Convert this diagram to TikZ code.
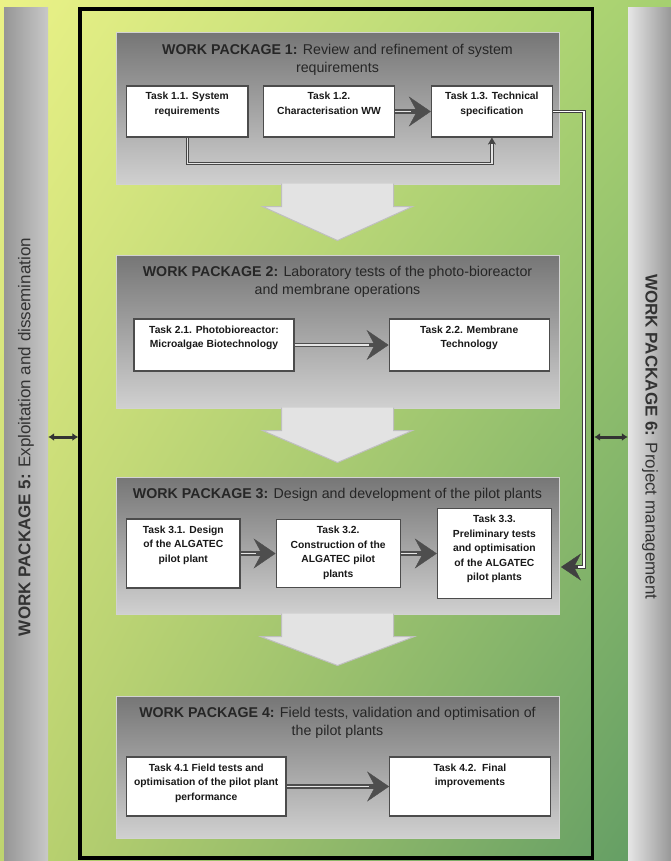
\documentclass[tikz,border=0pt]{standalone}
\usepackage{fontspec}
\setmainfont{Liberation Sans}
\usepackage{tikz}
\usetikzlibrary{arrows.meta,positioning,calc,shadings}

\definecolor{bgyellow}{RGB}{235,242,135}
\definecolor{bgolive}{RGB}{165,208,112}
\definecolor{bglime}{RGB}{190,212,112}
\definecolor{bggreen}{RGB}{95,155,100}
\definecolor{wptop}{RGB}{118,118,118}
\definecolor{wpbottom}{RGB}{208,208,208}
\definecolor{bardark}{RGB}{150,150,150}
\definecolor{barlight}{RGB}{230,230,230}
\definecolor{barmid}{RGB}{200,200,200}
\definecolor{arrowgray}{RGB}{78,78,78}

\begin{document}
\begin{tikzpicture}[x=1pt, y=-1pt,
  wp/.style={draw=gray!35, line width=1pt, top color=wptop, bottom color=wpbottom, minimum width=443pt, inner sep=0pt},
  wptitle/.style={font=\fontsize{14.2}{17.5}\selectfont, text=black!85, align=center, inner sep=0pt},
  task/.style={draw=black!70, line width=1.2pt, fill=white, align=center, inner xsep=2pt, inner ysep=6.5pt, font=\fontsize{10.3}{14.5}\selectfont\bfseries, text=black!90},
  sidebar/.style={minimum width=858pt, minimum height=44pt, font=\fontsize{17}{20}\selectfont, text=black!80, inner sep=0pt},
  outerframe/.style={draw=black, line width=3.4pt, minimum width=512.5pt, minimum height=849pt, inner sep=0pt},
  tarr/.style={draw=arrowgray, line width=4.6pt, -{Stealth[length=22pt, width=30pt, inset=8pt, line width=0.4pt]}, postaction={draw=gray!20, line width=1.6pt, -, shorten >=20pt}},
  loopc/.style={draw=gray!55!black, line width=3.2pt, -{Stealth[length=7pt, width=8pt, line width=0.4pt]}, postaction={draw=gray!20, line width=1.4pt, -, shorten >=6pt}},
  fback/.style={draw=gray!50!black, line width=3.4pt, -{Stealth[length=20pt, width=27pt, inset=7pt, line width=0.4pt]}, postaction={draw=white, line width=1.6pt, -, shorten >=17pt}},
  bigarr/.style={fill=gray!22, draw=gray!50, line width=1pt},
  sidearr/.style={draw=gray!40!black, line width=3pt, {Latex[length=6pt, width=8pt]}-{Latex[length=6pt, width=8pt]}}
]
\useasboundingbox (0,0) rectangle (671,861);
\shade[upper left=bgyellow, upper right=bgolive, lower left=bglime, lower right=bggreen] (0,0) rectangle (671,861);

% side work packages and frame
\node[sidebar, rotate=90, left color=bardark, middle color=barlight, right color=barmid] (wp5) at (26,437) {\textbf{WORK PACKAGE 5:} Exploitation and dissemination};
\node[sidebar, rotate=-90, left color=barlight, right color=bardark] (wp6) at (650,437) {\textbf{WORK PACKAGE 6:} Project management};
\node[outerframe] (core) at (336.25,433.5) {};

\draw[sidearr] (wp5.south) -- (wp5.south -| core.west);
\draw[sidearr] (wp6.south) -- (wp6.south -| core.east);

% work packages
\node[wp, minimum height=151pt] (wp1) at (337.5,108.5) {};
\node[wp, minimum height=153pt, below=70pt of wp1] (wp2) {};
\node[wp, minimum height=137pt, below=68pt of wp2] (wp3) {};
\node[wp, minimum height=142pt, below=81pt of wp3] (wp4) {};

\node[wptitle, below=12pt of wp1.north] (wp1t) {\textbf{WORK PACKAGE 1:} Review and refinement of system\\requirements};
\node[wptitle, below=12pt of wp2.north] (wp2t) {\textbf{WORK PACKAGE 2:} Laboratory tests of the photo-bioreactor\\and membrane operations};
\node[wptitle, below=12pt of wp3.north] (wp3t) {\textbf{WORK PACKAGE 3:} Design and development of the pilot plants};
\node[wptitle, below=12pt of wp4.north] (wp4t) {\textbf{WORK PACKAGE 4:} Field tests, validation and optimisation of\\the pilot plants};

% big arrows between packages
\filldraw[bigarr] ($(wp1.south)+(-56,-1)$) -- ++(0,23) -- ++(-19,0) -- ($(wp1.south)+(0,56)$) -- ++(75,-34) -- ++(-19,0) -- ++(0,-23);
\filldraw[bigarr] ($(wp2.south)+(-56,-1)$) -- ++(0,23) -- ++(-19,0) -- ($(wp2.south)+(0,54)$) -- ++(75,-32) -- ++(-19,0) -- ++(0,-23);
\filldraw[bigarr] ($(wp3.south)+(-56,-1)$) -- ++(0,23) -- ++(-21,0) -- ($(wp3.south)+(0,51)$) -- ++(77,-29) -- ++(-21,0) -- ++(0,-23);

% tasks
\node[task, minimum width=121.5pt, text height=22pt, text depth=16pt] (t11) at (187.25,111.5) {Task 1.1. System\\requirements};
\node[task, minimum width=130.5pt, text height=22pt, text depth=16pt, right=14.5pt of t11] (t12) {Task 1.2.\\Characterisation WW};
\node[task, minimum width=121pt, text height=22pt, text depth=16pt, right=36pt of t12] (t13) {Task 1.3. Technical\\specification};

\node[task, minimum width=160pt, text height=22pt, text depth=17pt] (t21) at (214,345) {Task 2.1. Photobioreactor:\\Microalgae Biotechnology};
\node[task, minimum width=160pt, text height=22pt, text depth=17pt, right=94pt of t21] (t22) {Task 2.2. Membrane\\Technology};

\node[task, minimum width=113.5pt, text height=36.5pt, text depth=19.5pt] (t31) at (183.25,553.5) {Task 3.1. Design\\of the ALGATEC\\pilot plant};
\node[task, minimum width=124pt, text height=51pt, text depth=4pt, right=35pt of t31] (t32) {Task 3.2.\\Construction of the\\ALGATEC pilot\\plants};
\node[task, minimum width=114pt, text height=65.5pt, text depth=11.5pt, right=36pt of t32] (t33) {Task 3.3.\\Preliminary tests\\and optimisation\\of the ALGATEC\\pilot plants};

\node[task, minimum width=159.5pt, text height=36.5pt, text depth=9.5pt] (t41) at (206.25,786.5) {Task 4.1 Field tests and\\optimisation of the pilot plant\\performance};
\node[task, minimum width=160.5pt, text height=22pt, text depth=24pt, right=102.5pt of t41] (t42) {Task 4.2.~~Final\\improvements};

\coordinate (wp3in) at (561,567);

\draw[tarr] (t12) -- (t13);
\draw[tarr] (t21) -- (t22);
\draw[tarr] (t31) -- (t32);
\draw[tarr] (t32) -- (t33);
\draw[tarr] (t41) -- (t42);
\draw[loopc] (t11.south) -- ++(0,26) -| (t13.south);
\draw[fback] (t13.east) -- ++(31,0) |- (wp3in);
\end{tikzpicture}
\end{document}
